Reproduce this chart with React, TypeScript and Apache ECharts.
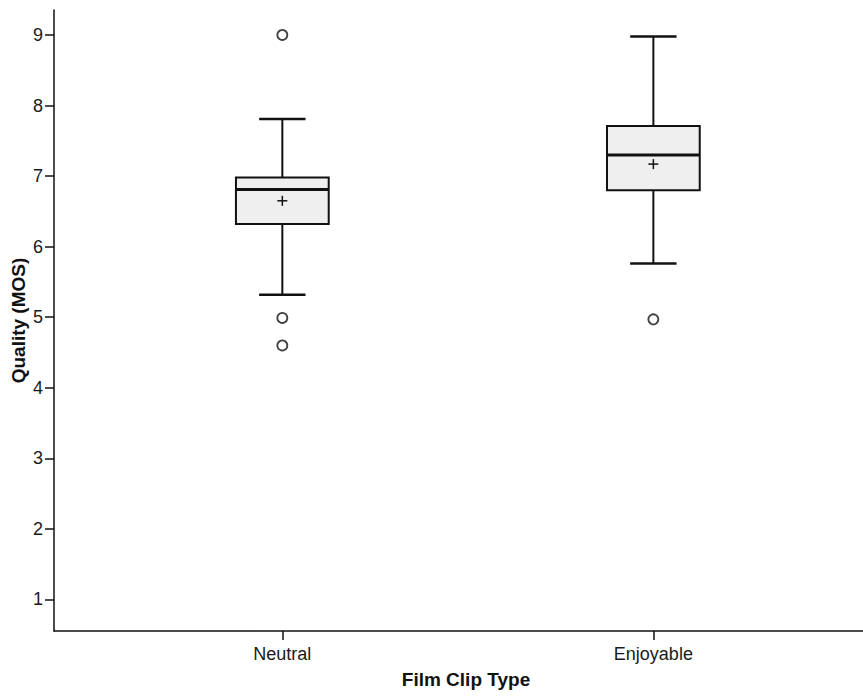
import React, { useEffect, useRef } from "react";
import * as echarts from "echarts";

const categories = ["Neutral", "Enjoyable"];
const whiskerLow = [5.32, 5.76];
const q1 = [6.32, 6.8];
const median = [6.81, 7.3];
const q3 = [6.98, 7.71];
const whiskerHigh = [7.81, 8.98];
const means = [6.65, 7.17];
const outlierCategory = [0, 0, 0, 1];
const outlierValue = [9.0, 4.99, 4.6, 4.97];
const yTicks = [1, 2, 3, 4, 5, 6, 7, 8, 9];

const FONT = "'Liberation Sans', Arial, sans-serif";
const INK = "#111111";

export default function App() {
  const ref = useRef<HTMLDivElement>(null);

  useEffect(() => {
    if (!ref.current) return;
    document.body.style.margin = "0";
    const chart = echarts.init(ref.current, null, { renderer: "svg" });

    const boxData = categories.map((_, i) => [
      i + 1,
      whiskerLow[i],
      q1[i],
      median[i],
      q3[i],
      whiskerHigh[i],
      means[i],
    ]);

    const outlierData = outlierValue.map((v, i) => [outlierCategory[i] + 1, v]);

    const renderItem = (params: any, api: any) => {
      const x = api.value(0);
      const lo = api.coord([x, api.value(1)]);
      const b1 = api.coord([x, api.value(2)]);
      const md = api.coord([x, api.value(3)]);
      const b3 = api.coord([x, api.value(4)]);
      const hi = api.coord([x, api.value(5)]);
      const mn = api.coord([x, api.value(6)]);
      const boxW = api.size([0.25, 0])[0];
      const capW = api.size([0.125, 0])[0];
      const cx = lo[0];
      const lineStyle = { stroke: INK, lineWidth: 2, fill: null };
      return {
        type: "group",
        children: [
          {
            type: "line",
            shape: { x1: cx, y1: hi[1], x2: cx, y2: b3[1] },
            style: lineStyle,
          },
          {
            type: "line",
            shape: { x1: cx, y1: b1[1], x2: cx, y2: lo[1] },
            style: lineStyle,
          },
          {
            type: "line",
            shape: { x1: cx - capW / 2, y1: hi[1], x2: cx + capW / 2, y2: hi[1] },
            style: { stroke: INK, lineWidth: 2.5 },
          },
          {
            type: "line",
            shape: { x1: cx - capW / 2, y1: lo[1], x2: cx + capW / 2, y2: lo[1] },
            style: { stroke: INK, lineWidth: 2.5 },
          },
          {
            type: "rect",
            shape: { x: cx - boxW / 2, y: b3[1], width: boxW, height: b1[1] - b3[1] },
            style: { fill: "#efefef", stroke: INK, lineWidth: 2 },
          },
          {
            type: "line",
            shape: { x1: cx - boxW / 2, y1: md[1], x2: cx + boxW / 2, y2: md[1] },
            style: { stroke: INK, lineWidth: 3 },
          },
          {
            type: "line",
            shape: { x1: cx - 5, y1: mn[1], x2: cx + 5, y2: mn[1] },
            style: { stroke: INK, lineWidth: 1.5 },
          },
          {
            type: "line",
            shape: { x1: cx, y1: mn[1] - 5, x2: cx, y2: mn[1] + 5 },
            style: { stroke: INK, lineWidth: 1.5 },
          },
        ],
      };
    };

    chart.setOption({
      animation: false,
      backgroundColor: "#ffffff",
      grid: { left: 54, right: 0, top: 10, bottom: 66, outerBoundsMode: "none", containLabel: false },
      xAxis: {
        type: "value",
        min: 0.3846,
        max: 2.565,
        splitLine: { show: false },
        axisLine: { show: true, lineStyle: { color: INK, width: 1.5 } },
        axisTick: {
          show: true,
          length: 9,
          customValues: categories.map((_, i) => i + 1),
          lineStyle: { color: INK, width: 1.5 },
        },
        axisLabel: {
          customValues: categories.map((_, i) => i + 1),
          formatter: (v: number) => categories[Math.round(v) - 1] ?? "",
          margin: 14,
          fontSize: 18,
          fontFamily: FONT,
          color: "#1a1a1a",
        },
        name: "Film Clip Type",
        nameLocation: "middle",
        nameGap: 39,
        nameMoveOverlap: false,
        nameTextStyle: {
          fontSize: 19,
          fontWeight: "bold",
          fontFamily: FONT,
          color: INK,
          padding: [0, 0, 0, 15],
        },
      },
      yAxis: {
        type: "value",
        min: 0.553,
        max: 9.354,
        splitLine: { show: false },
        axisLine: { show: true, lineStyle: { color: INK, width: 1.5 } },
        axisTick: {
          show: true,
          length: 9,
          customValues: yTicks,
          lineStyle: { color: INK, width: 1.5 },
        },
        axisLabel: {
          customValues: yTicks,
          margin: 11,
          fontSize: 18,
          fontFamily: FONT,
          color: "#1a1a1a",
        },
        name: "Quality (MOS)",
        nameLocation: "middle",
        nameGap: 26,
        nameMoveOverlap: false,
        nameTextStyle: {
          fontSize: 19,
          fontWeight: "bold",
          fontFamily: FONT,
          color: INK,
        },
      },
      series: [
        {
          type: "custom",
          name: "Quality",
          renderItem,
          data: boxData,
          encode: { x: 0, y: [1, 2, 3, 4, 5, 6] },
          z: 2,
        },
        {
          type: "scatter",
          name: "Outliers",
          data: outlierData,
          symbol: "circle",
          symbolSize: 10,
          itemStyle: { color: "#ffffff", borderColor: INK, borderWidth: 1.8 },
          z: 3,
        },
      ],
    });

    return () => chart.dispose();
  }, []);

  return (
    <div
      ref={ref}
      style={{ position: "absolute", left: 0, top: 0, width: 863, height: 697 }}
    />
  );
}
